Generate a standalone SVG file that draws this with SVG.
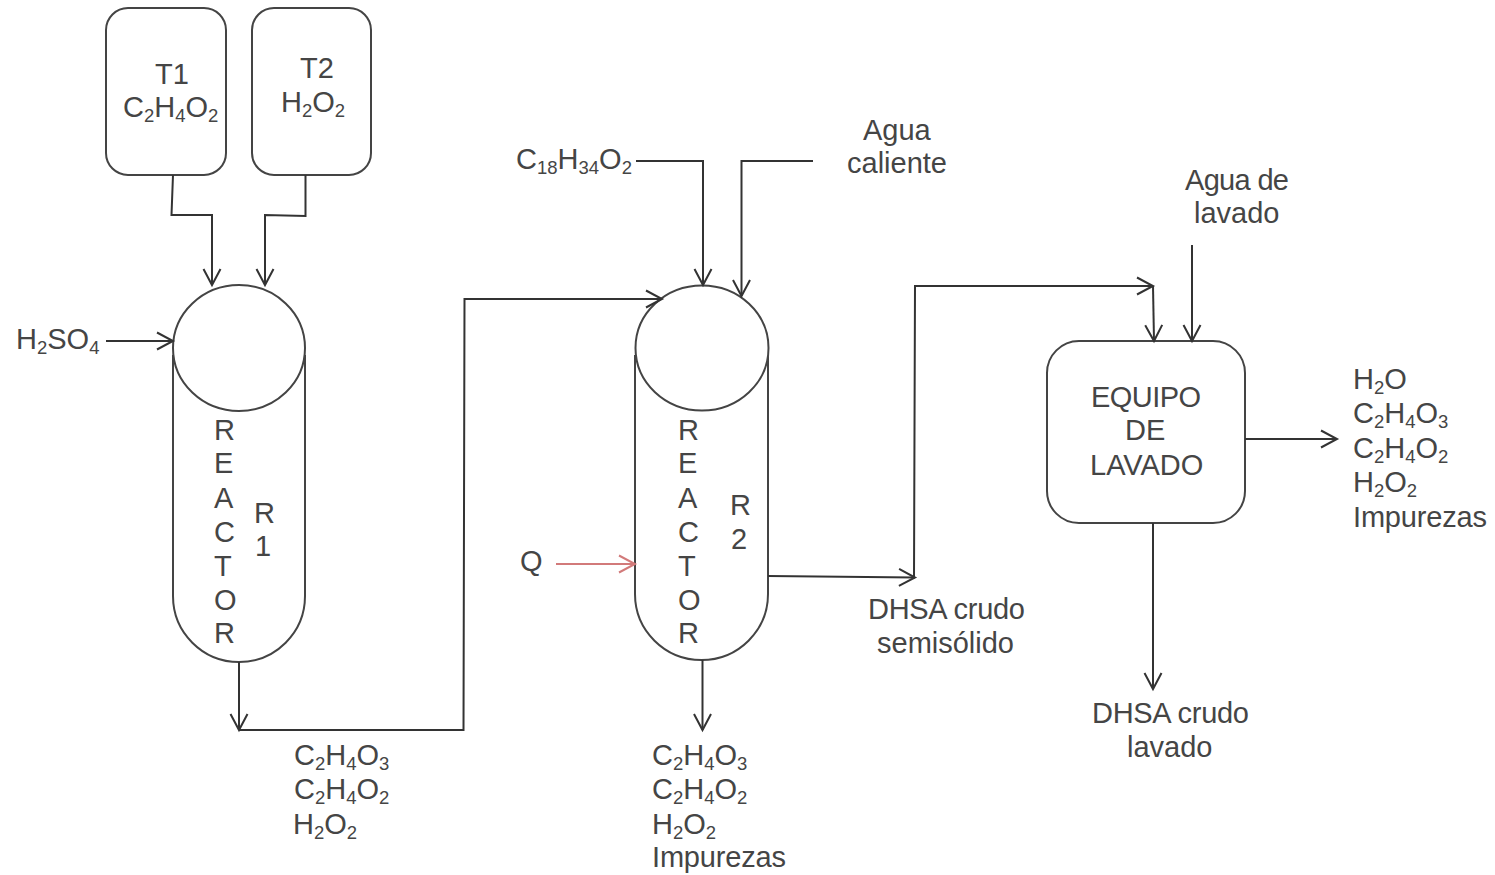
<svg xmlns="http://www.w3.org/2000/svg" width="1495" height="875" viewBox="0 0 1495 875">
<style>
text{font-family:"Liberation Sans",Arial,sans-serif;font-size:29px;fill:#454545}
.s{font-size:18.500px}
.n{fill:#fff;stroke:#444;stroke-width:2}
.c{fill:none;stroke:#333;stroke-width:2}
.r{fill:none;stroke:#d27a7a;stroke-width:2}
</style>
<defs>
<marker id="a" markerUnits="userSpaceOnUse" markerWidth="20" markerHeight="20" refX="17" refY="10" orient="auto"><path d="M1 1.500L17 10L1 18.500" fill="none" stroke="#333" stroke-width="2"/></marker>
<marker id="ar" markerUnits="userSpaceOnUse" markerWidth="20" markerHeight="20" refX="17" refY="10" orient="auto"><path d="M1 1.500L17 10L1 18.500" fill="none" stroke="#d27a7a" stroke-width="2"/></marker>
</defs>
<g id="T1"><rect class="n" x="106" y="8" width="120" height="167" rx="22"/><text x="155" y="84">T1</text><text x="123" y="117">C<tspan class="s" dy="5">2</tspan><tspan dy="-5">H</tspan><tspan class="s" dy="5">4</tspan><tspan dy="-5">O</tspan><tspan class="s" dy="5">2</tspan></text></g>
<g id="T2"><rect class="n" x="252" y="8" width="119" height="167" rx="22"/><text x="300" y="78">T2</text><text x="281" y="112">H<tspan class="s" dy="5">2</tspan><tspan dy="-5">O</tspan><tspan class="s" dy="5">2</tspan></text></g>
<g id="R1"><path class="n" d="M173 355V596A66 66 0 0 0 305 596V355"/><ellipse class="n" cx="239" cy="348" rx="66" ry="63"/>
<text x="214" y="440">R</text><text x="214" y="473">E</text><text x="214" y="508">A</text><text x="214" y="542">C</text><text x="214" y="576">T</text><text x="214" y="610">O</text><text x="214" y="643">R</text><text x="254" y="523">R</text><text x="255" y="556">1</text></g>
<g id="R2"><path class="n" d="M635 355V594A66.500 66 0 0 0 768 594V355"/><ellipse class="n" cx="702" cy="348" rx="66.500" ry="62.500"/>
<text x="678" y="440">R</text><text x="678" y="473">E</text><text x="678" y="508">A</text><text x="678" y="542">C</text><text x="678" y="576">T</text><text x="678" y="610">O</text><text x="678" y="643">R</text><text x="730" y="515">R</text><text x="731" y="549">2</text></g>
<g id="lavado"><rect class="n" x="1047" y="341" width="198" height="182" rx="32"/><text x="1091" y="407" textLength="110">EQUIPO</text><text x="1125" y="440">DE</text><text x="1090" y="475">LAVADO</text></g>
<g id="connectors">
<path class="c" marker-end="url(#a)" d="M173 175L171.500 215H212V285"/>
<path class="c" marker-end="url(#a)" d="M305.500 175V216L265 215V285"/>
<path class="c" marker-end="url(#a)" d="M106 341H173"/>
<path class="c" marker-end="url(#a)" d="M239 662V730"/>
<path class="c" marker-end="url(#a)" d="M239 730H463.500L464.500 299H662"/>
<path class="c" marker-end="url(#a)" d="M636 161H703V285"/>
<path class="c" marker-end="url(#a)" d="M813 161H741.500V296"/>
<path class="r" marker-end="url(#ar)" d="M556 564H635"/>
<path class="c" marker-end="url(#a)" d="M702.500 660V730"/>
<path class="c" marker-end="url(#a)" d="M768 576L915 577.500"/>
<path class="c" marker-end="url(#a)" d="M914 577L915 286H1153"/>
<path class="c" marker-end="url(#a)" d="M1153 286L1154 341"/>
<path class="c" marker-end="url(#a)" d="M1192 245V341"/>
<path class="c" marker-end="url(#a)" d="M1245 439H1337"/>
<path class="c" marker-end="url(#a)" d="M1153 523V689"/>
</g>
<g id="labels">
<text x="16" y="349">H<tspan class="s" dy="5">2</tspan><tspan dy="-5">SO</tspan><tspan class="s" dy="5">4</tspan></text>
<text x="516" y="169">C<tspan class="s" dy="5">18</tspan><tspan dy="-5">H</tspan><tspan class="s" dy="5">34</tspan><tspan dy="-5">O</tspan><tspan class="s" dy="5">2</tspan></text>
<text x="863" y="140">Agua</text><text x="847" y="173">caliente</text>
<text x="1185" y="190" textLength="104">Agua de</text><text x="1194" y="223">lavado</text>
<text x="520" y="571">Q</text>
<text x="868" y="619" textLength="157">DHSA crudo</text><text x="877" y="653">semisólido</text>
<text x="1092" y="723" textLength="157">DHSA crudo</text><text x="1127" y="757">lavado</text>
<text x="294" y="765">C<tspan class="s" dy="5">2</tspan><tspan dy="-5">H</tspan><tspan class="s" dy="5">4</tspan><tspan dy="-5">O</tspan><tspan class="s" dy="5">3</tspan></text>
<text x="294" y="799">C<tspan class="s" dy="5">2</tspan><tspan dy="-5">H</tspan><tspan class="s" dy="5">4</tspan><tspan dy="-5">O</tspan><tspan class="s" dy="5">2</tspan></text>
<text x="293" y="834">H<tspan class="s" dy="5">2</tspan><tspan dy="-5">O</tspan><tspan class="s" dy="5">2</tspan></text>
<text x="652" y="765">C<tspan class="s" dy="5">2</tspan><tspan dy="-5">H</tspan><tspan class="s" dy="5">4</tspan><tspan dy="-5">O</tspan><tspan class="s" dy="5">3</tspan></text>
<text x="652" y="799">C<tspan class="s" dy="5">2</tspan><tspan dy="-5">H</tspan><tspan class="s" dy="5">4</tspan><tspan dy="-5">O</tspan><tspan class="s" dy="5">2</tspan></text>
<text x="652" y="834">H<tspan class="s" dy="5">2</tspan><tspan dy="-5">O</tspan><tspan class="s" dy="5">2</tspan></text>
<text x="652" y="867" textLength="134">Impurezas</text>
<text x="1353" y="389">H<tspan class="s" dy="5">2</tspan><tspan dy="-5">O</tspan></text>
<text x="1353" y="423">C<tspan class="s" dy="5">2</tspan><tspan dy="-5">H</tspan><tspan class="s" dy="5">4</tspan><tspan dy="-5">O</tspan><tspan class="s" dy="5">3</tspan></text>
<text x="1353" y="458">C<tspan class="s" dy="5">2</tspan><tspan dy="-5">H</tspan><tspan class="s" dy="5">4</tspan><tspan dy="-5">O</tspan><tspan class="s" dy="5">2</tspan></text>
<text x="1353" y="492">H<tspan class="s" dy="5">2</tspan><tspan dy="-5">O</tspan><tspan class="s" dy="5">2</tspan></text>
<text x="1353" y="527" textLength="134">Impurezas</text>
</g>
</svg>
